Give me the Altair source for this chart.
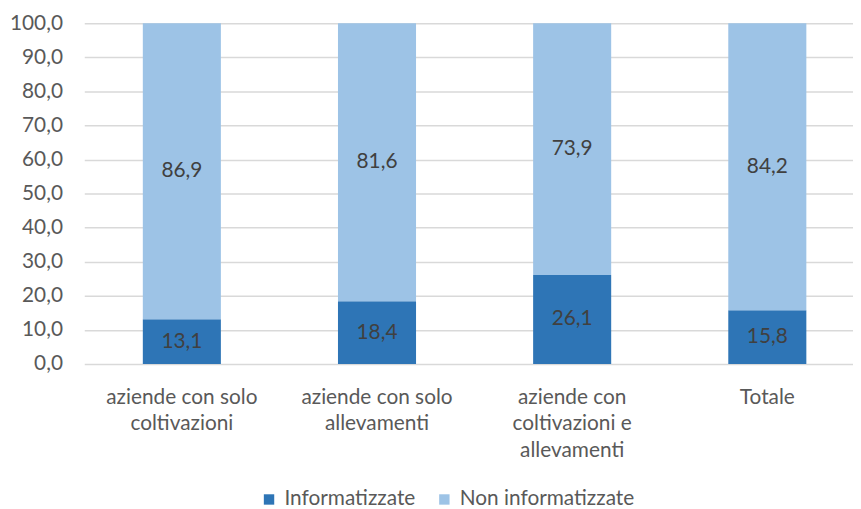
import altair as alt
import pandas as pd

categories = ["aziende con solo|coltivazioni", "aziende con  solo|allevamenti",
              "aziende con|coltivazioni e|allevamenti", "Totale"]
informatizzate = [13.1, 18.4, 26.1, 15.8]
non_informatizzate = [86.9, 81.6, 73.9, 84.2]
series = ["Informatizzate", "Non informatizzate"]
colors = ["#2E75B6", "#9DC3E6"]
y_ticks = [0, 10, 20, 30, 40, 50, 60, 70, 80, 90, 100]

rows = []
for c, a, b in zip(categories, informatizzate, non_informatizzate):
    rows.append({"cat": c, "serie": series[0], "val": a, "ord": 0})
    rows.append({"cat": c, "serie": series[1], "val": b, "ord": 1})
df = pd.DataFrame(rows)

FONT = "Lato"
FS = 21

base = alt.Chart(df).transform_stack(
    stack="val", groupby=["cat"], as_=["v0", "v1"], sort=[alt.SortField("ord")]
).transform_calculate(
    mid="(datum.v0 + datum.v1) / 2",
    lab="replace(format(datum.val, '.1f'), '.', ',')"
)

xscale = alt.Scale(range=[0, 788], paddingInner=0.6, paddingOuter=0.3)
yscale = alt.Scale(domain=[0, 100], nice=False)

xaxis = alt.Axis(labelExpr="split(datum.label, '|')", labelAngle=0,
                 labelFontSize=FS, labelColor="#595959", labelFont=FONT,
                 labelLineHeight=26.5, labelPadding=23, ticks=False,
                 domain=False, grid=False, labelLimit=300)
yaxis = alt.Axis(values=y_ticks, labelOverlap=False,
                 labelExpr="replace(format(datum.value, '.1f'), '.', ',')",
                 labelFontSize=FS, labelColor="#595959", labelFont=FONT,
                 labelPadding=22, ticks=False, domain=False,
                 gridColor="#D9D9D9", gridWidth=1.5)

bars = base.mark_bar().encode(
    x=alt.X("cat:N", sort=categories, title=None, scale=xscale, axis=xaxis),
    y=alt.Y("v0:Q", title=None, scale=yscale, axis=yaxis),
    y2="v1:Q",
    color=alt.Color("serie:N", scale=alt.Scale(domain=series, range=colors),
                    legend=alt.Legend(title=None, orient="none", legendX=176, legendY=470,
                                      direction="horizontal", symbolType="square",
                                      symbolSize=110, symbolStrokeWidth=0,
                                      labelFontSize=FS, labelColor="#595959",
                                      labelFont=FONT, columnPadding=18, labelOffset=5,
                                      labelLimit=300)),
)

texts = base.mark_text(fontSize=FS, font=FONT, color="#404040").encode(
    x=alt.X("cat:N", sort=categories, title=None, scale=xscale, axis=xaxis),
    y=alt.Y("mid:Q", title=None, scale=yscale, axis=yaxis),
    text="lab:N",
)

chart = alt.layer(bars, texts).properties(
    width=775, height=344,
    padding={"left": 77, "top": 13, "right": 1, "bottom": 145},
    autosize=alt.AutoSizeParams(type="none"),
).configure(background="white", view=alt.ViewConfig(strokeWidth=0, stroke="transparent"))

chart.save("out.html", embed_options={"renderer": "svg", "actions": False})
